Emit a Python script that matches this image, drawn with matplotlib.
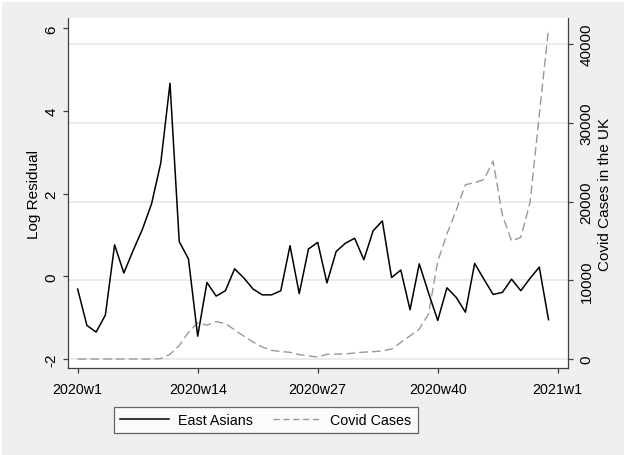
import matplotlib.pyplot as plt
from matplotlib.patches import Rectangle
from matplotlib.lines import Line2D

# weekly data, 2020w1 .. 2020w52
weeks = list(range(1, 53))
east_asians = [-0.31, -1.19, -1.35, -0.94, 0.76, 0.08, 0.62, 1.13, 1.75, 2.74,
               4.67, 0.84, 0.42, -1.45, -0.15, -0.48, -0.35, 0.18, -0.04, -0.31,
               -0.45, -0.45, -0.35, 0.74, -0.42, 0.66, 0.82, -0.16, 0.60, 0.80,
               0.92, 0.40, 1.10, 1.34, -0.03, 0.15, -0.81, 0.30, -0.40, -1.07,
               -0.28, -0.51, -0.87, 0.31, -0.07, -0.44, -0.39, -0.07, -0.35, -0.05,
               0.22, -1.05]
covid_cases = [0, 0, 0, 0, 0, 0, 0, 0, 0, 50,
               600, 1700, 3400, 4600, 4300, 4750, 4500, 3700, 2900, 2150,
               1520, 1100, 950, 850, 550, 400, 250, 600, 620, 650,
               760, 870, 930, 1020, 1270, 2100, 2950, 3800, 5700, 12400,
               15900, 18900, 22150, 22400, 22800, 25150, 18300, 15000, 15450, 19900,
               31000, 42000]
xtick_pos = [1, 14, 27, 40, 53]
xtick_labels = ['2020w1', '2020w14', '2020w27', '2020w40', '2021w1']
left_ticks = [-2, 0, 2, 4, 6]
right_ticks = [0, 10000, 20000, 30000, 40000]

font = 'Liberation Sans'
fs_v = 11    # rotated text
fs_h = 10.3  # horizontal text (reference is squeezed sideways)
axis_col = '#404040'
dash = (6.2, 3.0)

fig = plt.figure(figsize=(6.24, 4.56), dpi=100)
fig.patch.set_facecolor('white')
fig.patches.append(Rectangle((2 / 624, 0), 1, 1 - 3 / 456, transform=fig.transFigure,
                             facecolor='#efefef', edgecolor='none', zorder=-10))

# covid axis carries the grid, so it goes underneath
ax_c = fig.add_axes([0.1085, 0.1908, 0.8013, 0.7675])
ax_c.set_facecolor('white')
ax_r = ax_c.twinx()

ax_c.plot(weeks, covid_cases, color='#999999', lw=1.0, dashes=dash)
ax_r.plot(weeks, east_asians, color='black', lw=1.1)

ax_c.set_xlim(-0.08, 54.08)
ax_c.set_ylim(-1144, 43330)
ax_r.set_ylim(-2.22, 6.25)

ax_c.yaxis.tick_right()
ax_c.yaxis.set_label_position('right')
ax_r.yaxis.tick_left()
ax_r.yaxis.set_label_position('left')

ax_c.set_yticks(right_ticks)
ax_c.set_yticklabels([str(t) for t in right_ticks], rotation=90, va='center',
                     family=font, fontsize=fs_v)
ax_r.set_yticks(left_ticks)
ax_r.set_yticklabels([str(t) for t in left_ticks], rotation=90, va='center',
                     family=font, fontsize=fs_v)
ax_c.set_xticks(xtick_pos)
ax_c.set_xticklabels(xtick_labels, family=font, fontsize=fs_h)

ax_c.grid(axis='y', color='#e6e6e6', lw=1.1)
ax_c.grid(axis='x', visible=False)
ax_c.set_axisbelow(True)

for sp in ['top', 'left']:
    ax_c.spines[sp].set_visible(False)
for sp in ['top', 'right', 'bottom']:
    ax_r.spines[sp].set_visible(False)
for a in (ax_c, ax_r):
    for sp in a.spines.values():
        sp.set_color(axis_col)
        sp.set_linewidth(0.9)
    a.tick_params(length=3.6, width=0.9, color=axis_col, labelcolor='black')

ax_c.tick_params(axis='x', pad=6.2)
ax_c.tick_params(axis='y', pad=5)
ax_r.tick_params(axis='y', pad=3.1)

ax_r.set_ylabel('Log Residual', family=font, fontsize=fs_v, labelpad=2.5)
ax_c.set_ylabel('Covid Cases in the UK', family=font, fontsize=fs_v, labelpad=3)

handles = [Line2D([], [], color='black', lw=1.1),
           Line2D([], [], color='#999999', lw=1.0, dashes=(4.5, 2.6))]
leg = fig.legend(handles, ['East Asians', 'Covid Cases'], loc='center',
                 bbox_to_anchor=(266 / 624, 1 - 421 / 456), ncol=2,
                 prop={'family': font, 'size': fs_h}, frameon=True, fancybox=False,
                 handlelength=3.4, handletextpad=0.6, columnspacing=1.45,
                 borderpad=0.45)
leg.get_frame().set_edgecolor(axis_col)
leg.get_frame().set_linewidth(0.9)

fig.savefig('out.png', dpi=100)
